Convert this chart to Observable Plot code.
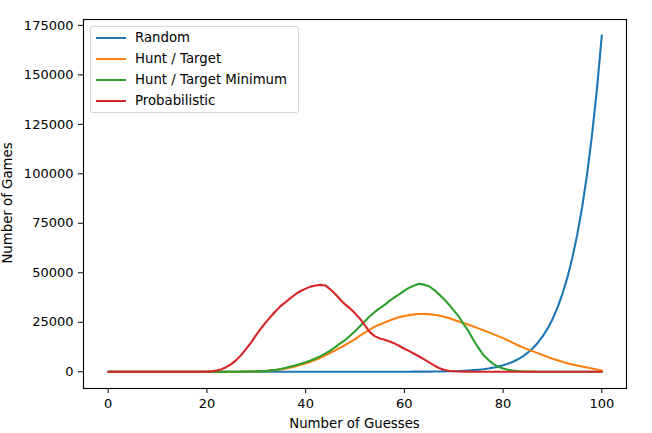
<!DOCTYPE html>
<html><head><meta charset="utf-8">
<script src="https://cdn.jsdelivr.net/npm/d3@7"></script>
<script src="https://cdn.jsdelivr.net/npm/@observablehq/plot@0.6"></script>
<style>
body{margin:0;background:#fff;}
#wrap{position:relative;width:652px;height:433px;font-family:"DejaVu Sans",sans-serif;color:#000;}
.legend{position:absolute;left:90px;top:26px;width:209px;height:87px;box-sizing:border-box;border:1px solid #d6d6d6;border-radius:3px;background:rgba(255,255,255,0.8);}
.row{position:absolute;left:0;height:20px;width:100%;}
.row .sw{position:absolute;left:5px;top:9px;width:30px;height:2px;}
.row .lb{position:absolute;left:44px;top:0;line-height:20px;font-size:13.3px;white-space:nowrap;}
</style>
</head><body>
<div id="wrap"></div>
<script>
const guesses = [0,1,2,3,4,5,6,7,8,9,10,11,12,13,14,15,16,17,18,19,20,21,22,23,24,25,26,27,28,29,30,31,32,33,34,35,36,37,38,39,40,41,42,43,44,45,46,47,48,49,50,51,52,53,54,55,56,57,58,59,60,61,62,63,64,65,66,67,68,69,70,71,72,73,74,75,76,77,78,79,80,81,82,83,84,85,86,87,88,89,90,91,92,93,94,95,96,97,98,99,100];

const randomGames = [0,0,0,0,0,0,0,0,0,0,0,0,0,0,0,0,0,0,0,0,
  0,0,0,0,0,0,0,0,0,0,0,0,0,0,0,0,0,0,0,0,
  0,0,0,0,0,0,0,0,0,0,0,0,0,0,0,0,0,0,8,12,
  16,22,30,41,55,74,98,129,169,221,288,373,481,619,793,1012,1286,1629,2056,2586,
  3243,4053,5051,6276,7775,9605,11832,14536,17812,21770,26542,32281,39167,47412,57264,69010,82987,99584,119255,142525,
  170000];

const huntTarget = [0,0,0,0,0,0,0,0,0,0,0,0,0,0,0,0,0,0,0,0,
  0,0,0,0,0,5,10,25,50,90,150,250,400,600,850,1200,1700,2200,2800,3500,
  4200,5000,6000,7100,8300,9600,10800,12200,13500,15000,16500,18200,19800,21300,22800,23900,24900,25900,26800,27600,
  28200,28600,29000,29200,29200,29100,28800,28400,27800,27100,26300,25400,24600,23700,22800,21900,21000,20000,19000,18000,
  17000,15800,14600,13400,12300,11300,10400,9400,8500,7500,6600,5800,5000,4300,3700,3100,2600,2100,1600,1100,
  600];

const huntTargetMin = [0,0,0,0,0,0,0,0,0,0,0,0,0,0,0,0,0,0,0,0,
  0,0,0,0,0,5,15,30,60,110,180,300,450,700,1000,1400,2000,2600,3300,4000,
  4800,5700,6700,7900,9200,10700,12400,14300,16000,18200,20500,23000,25500,28000,30200,32000,33800,35800,37600,39200,
  41000,42500,43600,44400,44000,43200,41400,39200,36800,34000,31000,28000,24000,20500,16000,12000,8500,6000,4000,2500,
  1600,1000,600,300,150,80,40,20,0,0,0,0,0,0,0,0,0,0,0,0,
  0];

const probabilistic = [0,0,0,0,0,0,0,0,0,0,0,0,0,0,0,0,0,0,0,0,
  50,200,600,1300,2400,4000,6000,8600,11700,15000,18600,22000,25200,28000,30800,33300,35300,37300,39300,40800,
  42000,43000,43600,43900,43600,41600,39300,36500,34000,32000,29500,26800,23400,20000,18000,16800,16200,15300,14300,13000,
  11600,10400,9100,7700,6200,4700,3200,1900,1000,500,250,120,60,30,15,0,0,0,0,0,
  0,0,0,0,0,0,0,0,0,0,0,0,0,0,0,0,0,0,0,0,
  0];

const seriesNames = ["Random", "Hunt / Target", "Hunt / Target Minimum", "Probabilistic"];
const seriesColors = ["#1f77b4", "#ff7f0e", "#2ca02c", "#d62728"];
const seriesValues = [randomGames, huntTarget, huntTargetMin, probabilistic];
const xTicks = [0, 20, 40, 60, 80, 100];
const yTicks = [0, 25000, 50000, 75000, 100000, 125000, 150000, 175000];

const rows = [];
seriesNames.forEach((name, i) => {
  guesses.forEach((g, j) => rows.push({series: name, guesses: g, games: seriesValues[i][j]}));
});

const lineMarks = seriesNames.map((name, i) =>
  Plot.line(rows.filter(d => d.series === name), {x: "guesses", y: "games", stroke: seriesColors[i], strokeWidth: 2.1})
);

const chart = Plot.plot({
  width: 652,
  height: 433,
  marginLeft: 83,
  marginRight: 26,
  marginTop: 19,
  marginBottom: 45,
  style: {fontFamily: "DejaVu Sans, sans-serif", fontSize: "13px", color: "#000", background: "white"},
  x: {domain: [-5, 105]},
  y: {domain: [-8475, 177975]},
  marks: [
    ...lineMarks,
    Plot.frame({stroke: "#000", strokeWidth: 1.1}),
    Plot.axisX({ticks: xTicks, tickSize: 5, tickPadding: 5, label: null, tickFormat: d3.format("d")}),
    Plot.axisY({ticks: yTicks, tickSize: 5, tickPadding: 5, label: null, tickFormat: d3.format("d")})
  ]
});

const svg = d3.select(chart);
svg.append("text").attr("x", 354.5).attr("y", 428).attr("text-anchor", "middle")
  .attr("font-size", "13.3px").attr("fill", "#000").text("Number of Guesses");
svg.append("text").attr("transform", "translate(12,203) rotate(-90)").attr("text-anchor", "middle")
  .attr("font-size", "13.3px").attr("fill", "#000").text("Number of Games");

const wrap = document.getElementById("wrap");
wrap.appendChild(chart);

const legend = document.createElement("div");
legend.className = "legend";
seriesNames.forEach((name, i) => {
  const row = document.createElement("div");
  row.className = "row";
  row.style.top = (1 + i * 21) + "px";
  const sw = document.createElement("div");
  sw.className = "sw";
  sw.style.background = seriesColors[i];
  const lb = document.createElement("div");
  lb.className = "lb";
  lb.textContent = name;
  row.appendChild(sw);
  row.appendChild(lb);
  legend.appendChild(row);
});
wrap.appendChild(legend);
</script>
</body></html>
